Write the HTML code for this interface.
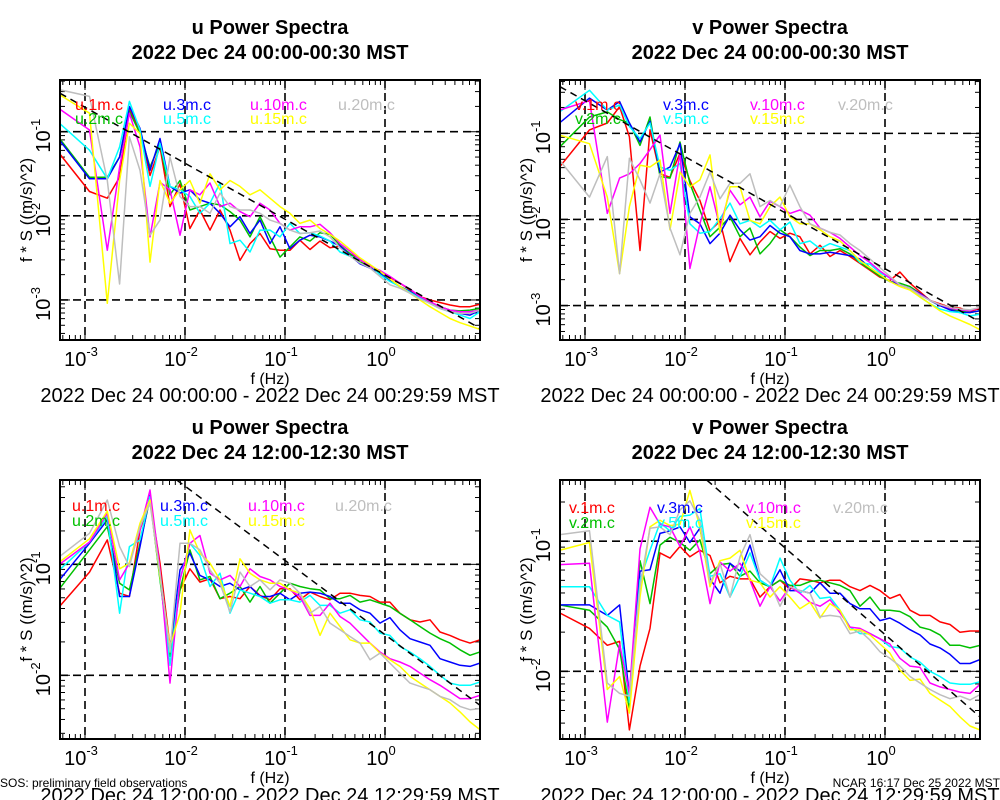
<!DOCTYPE html>
<html><head><meta charset="utf-8">
<style>
html,body{margin:0;padding:0;background:#fff;}
svg{display:block;font-family:"Liberation Sans",Arial,sans-serif;}
</style></head>
<body>
<svg id="fig" width="1000" height="800" viewBox="0 0 1000 800" xmlns="http://www.w3.org/2000/svg"></svg>
<script>
// ---- shared frequency axis (Hz) ----
const freqHz = [5.56e-4,1.11e-3,1.67e-3,2.22e-3,2.78e-3,3.55e-3,4.47e-3,5.62e-3,7.08e-3,8.91e-3,
0.0112,0.0141,0.0178,0.0224,0.0282,0.0355,0.0447,0.0562,0.0708,0.0891,
0.112,0.141,0.178,0.224,0.282,0.355,0.447,0.562,0.708,0.891,
1.12,1.41,1.78,2.24,2.82,3.55,4.47,5.62,7.08,8.91];

// ---- panel 1: u 00:00-00:30 (log10 of f*S) ----
const u00_1m = [-1.26,-1.71,-1.79,-1.54,-0.74,-0.98,-1.52,-1.18,-1.89,-1.62,-2.15,-1.93,-2.17,-1.93,-2.17,-2.53,-2.33,-2.21,-2.39,-2.41,-2.41,-2.29,
-2.40,-2.30,-2.38,-2.36,-2.45,-2.52,-2.62,-2.65,-2.73,-2.80,-2.88,-2.96,-3.00,-3.03,-3.06,-3.08,-3.08,-3.05];
const u00_2m = [-1.08,-1.54,-1.54,-1.30,-0.76,-1.02,-1.42,-1.14,-1.75,-1.58,-1.93,-1.89,-1.85,-1.87,-1.95,-2.05,-2.25,-2.01,-2.25,-2.49,-2.37,-2.25,
-2.30,-2.20,-2.22,-2.35,-2.45,-2.55,-2.60,-2.68,-2.76,-2.84,-2.90,-2.97,-3.03,-3.08,-3.12,-3.13,-3.12,-3.10];
const u00_3m = [-1.10,-1.56,-1.56,-1.30,-0.70,-0.96,-1.46,-1.08,-1.65,-1.73,-1.69,-1.81,-1.85,-1.97,-2.13,-2.01,-2.21,-2.05,-2.33,-2.13,-2.39,-2.29,
-2.23,-2.25,-2.30,-2.36,-2.47,-2.57,-2.62,-2.68,-2.77,-2.84,-2.90,-2.98,-3.04,-3.10,-3.14,-3.16,-3.18,-3.12];
const u00_5m = [-0.90,-1.22,-1.56,-1.18,-0.64,-0.98,-1.65,-1.14,-1.65,-1.69,-1.77,-1.97,-1.85,-1.61,-2.33,-2.29,-2.43,-2.17,-2.17,-2.25,-2.09,-2.21,
-2.20,-2.24,-2.30,-2.43,-2.48,-2.52,-2.58,-2.70,-2.78,-2.84,-2.91,-2.98,-3.04,-3.10,-3.14,-3.18,-3.22,-3.14];
const u00_10m = [-0.73,-0.98,-2.41,-1.42,-0.78,-1.18,-2.25,-1.60,-1.69,-2.23,-1.69,-1.75,-1.61,-1.89,-1.85,-1.95,-2.01,-1.85,-1.93,-2.09,-2.17,-2.13,
-2.13,-2.10,-2.20,-2.33,-2.42,-2.52,-2.60,-2.65,-2.72,-2.80,-2.87,-2.96,-3.02,-3.08,-3.12,-3.14,-3.14,-3.12];
const u00_15m = [-0.56,-0.78,-3.04,-1.58,-0.90,-1.02,-2.55,-1.58,-1.85,-1.69,-1.58,-1.85,-1.50,-1.69,-1.58,-1.65,-1.75,-1.69,-1.79,-1.89,-1.97,-2.09,
-2.05,-2.15,-2.22,-2.30,-2.40,-2.50,-2.58,-2.66,-2.75,-2.84,-2.92,-3.00,-3.08,-3.15,-3.22,-3.27,-3.31,-3.35];
const u00_20m = [-0.50,-0.58,-1.58,-2.81,-1.06,-1.46,-2.23,-2.05,-1.30,-1.77,-1.89,-1.89,-1.97,-1.73,-1.89,-1.93,-1.93,-1.97,-2.05,-2.09,-2.17,-2.21,
-2.20,-2.18,-2.25,-2.38,-2.48,-2.56,-2.62,-2.72,-2.82,-2.86,-2.92,-2.99,-3.04,-3.10,-3.14,-3.16,-3.16,-3.12];

// ---- panel 2: v 00:00-00:30 ----
const v00_1m = [-1.39,-0.96,-0.88,-0.69,-1.04,-2.36,-0.96,-1.47,-1.51,-1.23,-1.55,-1.78,-2.13,-2.02,-2.49,-2.22,-2.41,-2.26,-2.14,-2.22,-2.16,-2.20,
-2.40,-2.30,-2.43,-2.36,-2.43,-2.51,-2.59,-2.67,-2.71,-2.61,-2.74,-2.84,-2.94,-2.98,-3.02,-3.03,-3.07,-3.03];
const v00_2m = [-1.16,-0.81,-0.75,-0.84,-0.88,-1.14,-0.81,-1.50,-1.52,-1.10,-1.58,-1.89,-2.20,-2.09,-1.97,-2.20,-2.10,-2.40,-2.28,-2.12,-2.20,-2.32,
-2.42,-2.36,-2.36,-2.34,-2.40,-2.50,-2.58,-2.66,-2.72,-2.74,-2.78,-2.86,-2.94,-3.00,-3.04,-3.06,-3.08,-3.06];
const v00_3m = [-0.88,-0.59,-0.73,-0.63,-0.88,-1.10,-0.86,-1.45,-1.39,-1.12,-1.97,-2.05,-2.28,-2.16,-1.95,-2.12,-2.24,-2.20,-2.07,-2.16,-2.20,-2.36,
-2.40,-2.40,-2.38,-2.40,-2.42,-2.46,-2.56,-2.64,-2.72,-2.76,-2.80,-2.86,-2.94,-3.00,-3.05,-3.08,-3.08,-3.06];
const v00_5m = [-0.75,-0.50,-0.73,-0.67,-0.92,-1.06,-0.88,-1.39,-1.43,-1.35,-2.05,-2.16,-2.14,-1.99,-1.81,-2.05,-2.01,-2.09,-2.01,-2.12,-2.03,-2.28,
-2.25,-2.34,-2.28,-2.32,-2.36,-2.50,-2.52,-2.62,-2.68,-2.76,-2.80,-2.90,-2.98,-3.04,-3.07,-3.08,-3.12,-3.10];
const v00_10m = [-0.73,-0.62,-1.93,-1.52,-1.47,-1.35,-1.19,-1.02,-1.93,-1.23,-2.57,-2.05,-1.62,-2.09,-1.66,-1.83,-1.74,-1.97,-1.79,-1.85,-1.93,-1.89,
-1.95,-2.10,-2.15,-2.22,-2.32,-2.42,-2.50,-2.60,-2.68,-2.76,-2.80,-2.87,-2.94,-2.99,-3.03,-3.05,-3.06,-3.02];
const v00_15m = [-1.02,-1.12,-1.74,-2.63,-1.85,-1.37,-1.39,-1.31,-2.12,-1.45,-1.62,-1.54,-1.25,-2.16,-1.62,-1.62,-2.01,-2.05,-1.85,-1.74,-1.97,-2.05,
-2.05,-2.12,-2.20,-2.25,-2.36,-2.48,-2.56,-2.64,-2.72,-2.78,-2.82,-2.90,-2.98,-3.06,-3.12,-3.17,-3.22,-3.28];
const v00_20m = [-1.31,-1.74,-1.27,-2.63,-1.29,-1.54,-1.81,-1.47,-2.10,-2.41,-1.93,-1.74,-1.45,-1.76,-1.58,-1.58,-1.47,-1.85,-1.78,-1.85,-1.60,-1.85,
-2.05,-2.10,-2.15,-2.18,-2.28,-2.36,-2.46,-2.56,-2.66,-2.76,-2.80,-2.88,-2.94,-2.99,-3.02,-3.04,-3.05,-3.02];

// ---- panel 3: u 12:00-12:30 ----
const u12_1m = [-1.38,-1.07,-0.78,-1.26,-1.29,-0.69,-0.42,-0.99,-1.74,-1.23,-1.04,-1.16,-1.13,-1.31,-1.29,-1.31,-1.20,-1.28,-1.32,-1.22,-1.22,-1.32,
-1.25,-1.29,-1.32,-1.26,-1.26,-1.28,-1.29,-1.34,-1.34,-1.44,-1.50,-1.52,-1.50,-1.61,-1.64,-1.68,-1.71,-1.68];
const u12_2m = [-1.22,-0.87,-0.66,-1.17,-1.23,-0.81,-0.41,-1.14,-1.83,-1.23,-0.87,-1.14,-1.11,-1.31,-1.26,-1.20,-1.34,-1.20,-1.35,-1.26,-1.17,-1.20,
-1.22,-1.23,-1.31,-1.31,-1.28,-1.34,-1.32,-1.35,-1.38,-1.44,-1.50,-1.56,-1.62,-1.67,-1.71,-1.77,-1.82,-1.79];
const u12_3m = [-1.14,-0.81,-0.60,-1.29,-1.29,-0.84,-0.38,-1.08,-1.77,-1.05,-0.90,-1.10,-1.14,-1.20,-1.17,-1.23,-1.20,-1.29,-1.29,-1.26,-1.32,-1.26,
-1.25,-1.26,-1.29,-1.35,-1.35,-1.41,-1.44,-1.53,-1.48,-1.59,-1.67,-1.70,-1.73,-1.85,-1.88,-1.91,-1.92,-1.89];
const u12_5m = [-1.05,-0.80,-0.57,-1.44,-0.84,-0.78,-0.39,-1.11,-1.91,-1.13,-0.81,-0.92,-1.20,-1.08,-1.44,-1.23,-1.26,-1.29,-1.35,-1.32,-1.32,-1.34,
-1.28,-1.37,-1.37,-1.44,-1.41,-1.50,-1.52,-1.62,-1.64,-1.74,-1.79,-1.85,-1.92,-2.00,-2.07,-2.09,-2.09,-2.06];
const u12_10m = [-1.00,-0.80,-0.54,-1.14,-0.99,-0.69,-0.33,-1.05,-2.07,-1.14,-0.81,-0.74,-1.08,-1.14,-1.10,-1.20,-1.04,-1.11,-1.14,-1.20,-1.23,-1.29,
-1.46,-1.46,-1.35,-1.47,-1.53,-1.62,-1.71,-1.79,-1.85,-1.88,-1.92,-1.98,-2.04,-2.09,-2.15,-2.21,-2.21,-2.18];
const u12_15m = [-0.98,-0.77,-0.52,-1.04,-0.99,-0.63,-0.42,-1.11,-1.74,-1.44,-0.69,-0.90,-0.99,-1.14,-1.38,-0.95,-1.08,-1.14,-1.17,-1.17,-1.23,-1.26,
-1.40,-1.64,-1.44,-1.56,-1.68,-1.71,-1.71,-1.80,-1.86,-1.92,-2.01,-2.07,-2.13,-2.19,-2.25,-2.33,-2.42,-2.49];
const u12_20m = [-0.93,-0.72,-0.42,-0.84,-1.02,-0.66,-0.45,-1.08,-1.79,-0.81,-0.81,-0.87,-1.05,-1.17,-1.43,-1.07,-1.20,-1.14,-1.23,-1.14,-1.17,-1.26,
-1.44,-1.38,-1.53,-1.59,-1.65,-1.71,-1.86,-1.80,-1.89,-1.98,-2.07,-2.10,-2.13,-2.19,-2.22,-2.28,-2.31,-2.30];

// ---- panel 4: v 12:00-12:30 ----
const v12_1m = [-1.55,-1.67,-1.80,-1.77,-2.45,-1.96,-1.67,-1.09,-1.13,-1.04,-1.12,-1.07,-1.11,-1.32,-1.27,-1.29,-1.29,-1.43,-1.35,-1.30,-1.37,-1.29,
-1.30,-1.32,-1.30,-1.30,-1.35,-1.38,-1.34,-1.38,-1.44,-1.41,-1.53,-1.57,-1.57,-1.62,-1.64,-1.70,-1.69,-1.69];
const v12_2m = [-1.49,-1.53,-1.66,-1.83,-2.29,-1.15,-1.48,-1.03,-0.97,-1.01,-1.07,-0.99,-1.25,-1.18,-1.17,-1.27,-1.23,-1.32,-1.35,-1.30,-1.34,-1.34,
-1.31,-1.30,-1.32,-1.34,-1.38,-1.50,-1.43,-1.53,-1.53,-1.54,-1.58,-1.66,-1.68,-1.72,-1.80,-1.80,-1.82,-1.80];
const v12_3m = [-1.49,-1.49,-1.57,-1.49,-2.19,-1.23,-1.22,-0.94,-0.92,-0.89,-1.01,-0.90,-1.29,-1.40,-1.17,-1.23,-1.03,-1.30,-1.35,-1.22,-1.38,-1.38,
-1.40,-1.32,-1.40,-1.40,-1.48,-1.52,-1.52,-1.61,-1.59,-1.63,-1.68,-1.72,-1.79,-1.82,-1.87,-1.94,-1.94,-1.91];
const v12_5m = [-1.35,-1.35,-1.57,-1.62,-2.24,-1.30,-1.07,-0.86,-0.92,-0.81,-0.80,-0.75,-1.27,-1.25,-1.43,-1.27,-1.09,-1.30,-1.35,-1.13,-1.30,-1.40,
-1.34,-1.44,-1.43,-1.53,-1.66,-1.71,-1.71,-1.75,-1.81,-1.82,-1.89,-1.93,-2.00,-2.04,-2.09,-2.10,-2.10,-2.08];
const v12_10m = [-1.18,-1.17,-2.39,-1.79,-2.17,-1.06,-0.74,-0.87,-0.89,-1.04,-0.89,-1.08,-1.48,-1.16,-1.23,-1.17,-1.30,-1.50,-1.35,-1.46,-1.35,-1.40,
-1.47,-1.50,-1.45,-1.55,-1.66,-1.67,-1.71,-1.75,-1.79,-1.90,-1.96,-1.97,-2.09,-2.12,-2.14,-2.16,-2.17,-2.10];
const v12_15m = [-1.07,-1.01,-2.14,-2.04,-2.32,-1.43,-0.89,-0.84,-0.88,-0.87,-0.61,-0.89,-1.35,-1.15,-1.13,-1.07,-1.30,-1.32,-1.43,-1.35,-1.43,-1.52,
-1.47,-1.59,-1.48,-1.53,-1.68,-1.68,-1.72,-1.79,-1.86,-1.99,-2.07,-2.06,-2.17,-2.22,-2.27,-2.35,-2.42,-2.45];
const v12_20m = [-0.95,-0.92,-2.09,-2.17,-2.19,-1.35,-0.90,-0.89,-0.95,-0.76,-0.69,-0.84,-1.32,-1.17,-1.43,-1.12,-0.95,-1.25,-1.32,-1.50,-1.35,-1.38,
-1.40,-1.58,-1.57,-1.58,-1.71,-1.69,-1.76,-1.85,-1.90,-1.96,-2.04,-2.09,-2.14,-2.18,-2.21,-2.19,-2.22,-2.18];

// ---- -2/3 reference lines (endpoints: log10 f, log10 f*S) ----
const refLogF_u00 = [-3.25, 0.95];  const refLogS_u00 = [-0.543, -3.337];
const refLogF_v00 = [-3.25, 0.95];  const refLogS_v00 = [-0.458, -3.19];
const refLogF_u12 = [-2.083, 0.95]; const refLogS_u12 = [-0.24, -2.27];
const refLogF_v12 = [-1.783, 0.95]; const refLogS_v12 = [-0.53, -2.35];

const seriesSuffix = ["1m","2m","3m","5m","10m","15m","20m"];
const seriesColors = ["#ff0000","#00c000","#0000ff","#00ffff","#ff00ff","#ffff00","#bebebe"];

const NS = "http://www.w3.org/2000/svg";
const svg = document.getElementById("fig");
function mk(tag, attrs, parent){
  const e = document.createElementNS(NS, tag);
  for (const k in attrs) e.setAttribute(k, attrs[k]);
  (parent||svg).appendChild(e);
  return e;
}

const panels = [
 {id:"u00", v:"u", x0:60, x1:480, y0:80, y1:340, lmax:-0.385, lmin:-3.476, title2:"2022 Dec 24 00:00-00:30 MST",
  sub:"2022 Dec 24 00:00:00 - 2022 Dec 24 00:29:59 MST", subY:402,
  data:[u00_1m,u00_2m,u00_3m,u00_5m,u00_10m,u00_15m,u00_20m], rf:refLogF_u00, rs:refLogS_u00,
  leg:{x:[75,163,250,338], y:[110,124]}, decades:[-1,-2,-3]},
 {id:"v00", v:"v", x0:560, x1:980, y0:80, y1:340, lmax:-0.38, lmin:-3.40, title2:"2022 Dec 24 00:00-00:30 MST",
  sub:"2022 Dec 24 00:00:00 - 2022 Dec 24 00:29:59 MST", subY:402,
  data:[v00_1m,v00_2m,v00_3m,v00_5m,v00_10m,v00_15m,v00_20m], rf:refLogF_v00, rs:refLogS_v00,
  leg:{x:[575,663,750,838], y:[110,124]}, decades:[-1,-2,-3]},
 {id:"u12", v:"u", x0:60, x1:480, y0:480, y1:739, lmax:-0.24, lmin:-2.574, title2:"2022 Dec 24 12:00-12:30 MST",
  sub:"2022 Dec 24 12:00:00 - 2022 Dec 24 12:29:59 MST", subY:802,
  data:[u12_1m,u12_2m,u12_3m,u12_5m,u12_10m,u12_15m,u12_20m], rf:refLogF_u12, rs:refLogS_u12,
  leg:{x:[72,160,248,335], y:[511,526]}, decades:[-1,-2]},
 {id:"v12", v:"v", x0:560, x1:980, y0:480, y1:739, lmax:-0.53, lmin:-2.52, title2:"2022 Dec 24 12:00-12:30 MST",
  sub:"2022 Dec 24 12:00:00 - 2022 Dec 24 12:29:59 MST", subY:802,
  data:[v12_1m,v12_2m,v12_3m,v12_5m,v12_10m,v12_15m,v12_20m], rf:refLogF_v12, rs:refLogS_v12,
  leg:{x:[569,657,746,833], y:[513,528]}, decades:[-1,-2]}
];
const LXMIN = -3.25, LXMAX = 0.95;

panels.forEach((p, pi) => {
  const xs = lf => p.x0 + (lf - LXMIN) / (LXMAX - LXMIN) * (p.x1 - p.x0);
  const ys = ls => p.y0 + (p.lmax - ls) / (p.lmax - p.lmin) * (p.y1 - p.y0);
  const cx = (p.x0 + p.x1) / 2;
  const g = mk("g", {});
  
  

  const t1 = mk("text", {x:cx, y:p.y0-46, "text-anchor":"middle", "font-size":"20", "font-weight":"bold"}, g);
  t1.textContent = p.v + " Power Spectra";
  
  
  const t2 = mk("text", {x:cx, y:p.y0-21, "text-anchor":"middle", "font-size":"20", "font-weight":"bold"}, g);
  t2.textContent = p.title2;
  
  

  const clipId = "clip" + pi;
  const cp = mk("clipPath", {id:clipId}, g);
  mk("rect", {x:p.x0, y:p.y0, width:p.x1-p.x0, height:p.y1-p.y0}, cp);

  const ticks = mk("g", {stroke:"#000", "stroke-width":"1"}, g);
  
  
  for (let d = -4; d <= 1; d++) for (let m = 1; m <= 9; m++) {
    const lf = d + Math.log10(m);
    if (lf <= LXMIN || lf >= LXMAX) continue;
    const x = xs(lf), len = m === 1 ? 10 : 5;
    mk("line", {x1:x, y1:p.y1, x2:x, y2:p.y1-len}, ticks);
    mk("line", {x1:x, y1:p.y0, x2:x, y2:p.y0+len}, ticks);
  }
  for (let d = -4; d <= 0; d++) for (let m = 1; m <= 9; m++) {
    const ls = d + Math.log10(m);
    if (ls <= p.lmin || ls >= p.lmax) continue;
    const y = ys(ls), len = m === 1 ? 10 : 5;
    mk("line", {x1:p.x0, y1:y, x2:p.x0+len, y2:y}, ticks);
    mk("line", {x1:p.x1, y1:y, x2:p.x1-len, y2:y}, ticks);
  }

  const grid = mk("g", {stroke:"#000", "stroke-width":"1.6", "stroke-dasharray":"8,5"}, g);
  
  
  [-3,-2,-1,0].forEach(d => { const x = xs(d); mk("line", {x1:x, y1:p.y0, x2:x, y2:p.y1}, grid); });
  p.decades.forEach(d => { const y = ys(d); mk("line", {x1:p.x0, y1:y, x2:p.x1, y2:y}, grid); });

  const sg = mk("g", {"clip-path":"url(#"+clipId+")", fill:"none", "stroke-width":"1.5", "stroke-linejoin":"round"}, g);
  p.data.forEach((arr, si) => {
    const pts = arr.map((v, i) => xs(Math.log10(freqHz[i])).toFixed(1) + "," + ys(v).toFixed(1)).join(" ");
    const pl = mk("polyline", {points:pts, stroke:seriesColors[si]}, sg);
    
    
  });
  const rl = mk("line", {x1:xs(p.rf[0]), y1:ys(p.rs[0]), x2:xs(p.rf[1]), y2:ys(p.rs[1]), stroke:"#000", "stroke-width":"1.5", "stroke-dasharray":"7,5"}, sg);
  
  

  const lg = mk("g", {"font-size":"16"}, g);
  
  
  seriesSuffix.forEach((s, si) => {
    const col = Math.floor(si / 2), row = si % 2;
    const t = mk("text", {x:p.leg.x[col], y:p.leg.y[row], fill:seriesColors[si]}, lg);
    t.textContent = p.v + "." + s + ".c";
    
    
  });

  const fr = mk("rect", {x:p.x0, y:p.y0, width:p.x1-p.x0, height:p.y1-p.y0, fill:"none", stroke:"#000", "stroke-width":"2"}, g);
  
  

  [-3,-2,-1,0].forEach(d => {
    const t = mk("text", {x:xs(d)-4, y:p.y1+26, "text-anchor":"middle", "font-size":"20"}, g);
    t.appendChild(document.createTextNode("10"));
    const sp = mk("tspan", {dy:"-10", "font-size":"13"}, t);
    sp.textContent = String(d);
    
    
  });
  p.decades.forEach(d => {
    const y = ys(d);
    const t = mk("text", {x:0, y:0, "text-anchor":"middle", "font-size":"20", transform:"translate(" + (p.x0-10) + "," + (y+4) + ") rotate(-90)"}, g);
    t.appendChild(document.createTextNode("10"));
    const sp = mk("tspan", {dy:"-10", "font-size":"13"}, t);
    sp.textContent = String(d);
    
    
  });
  const yt = mk("text", {x:0, y:0, "text-anchor":"middle", "font-size":"17", transform:"translate(" + (p.x0-28) + "," + ((p.y0+p.y1)/2) + ") rotate(-90)"}, g);
  yt.textContent = "f * S ((m/s)^2)";
  
  
  const xt = mk("text", {x:cx, y:p.y1+44, "text-anchor":"middle", "font-size":"16"}, g);
  xt.textContent = "f (Hz)";
  
  
  const st = mk("text", {x:cx, y:p.subY, "text-anchor":"middle", "font-size":"20"}, g);
  st.textContent = p.sub;
  
  
});

const f1 = mk("text", {x:0, y:787, "font-size":"12"});
f1.textContent = "SOS: preliminary field observations";


const f2 = mk("text", {x:1000, y:787, "font-size":"12", "text-anchor":"end"});
f2.textContent = "NCAR 16:17 Dec 25 2022 MST";


</script>
</body></html>
